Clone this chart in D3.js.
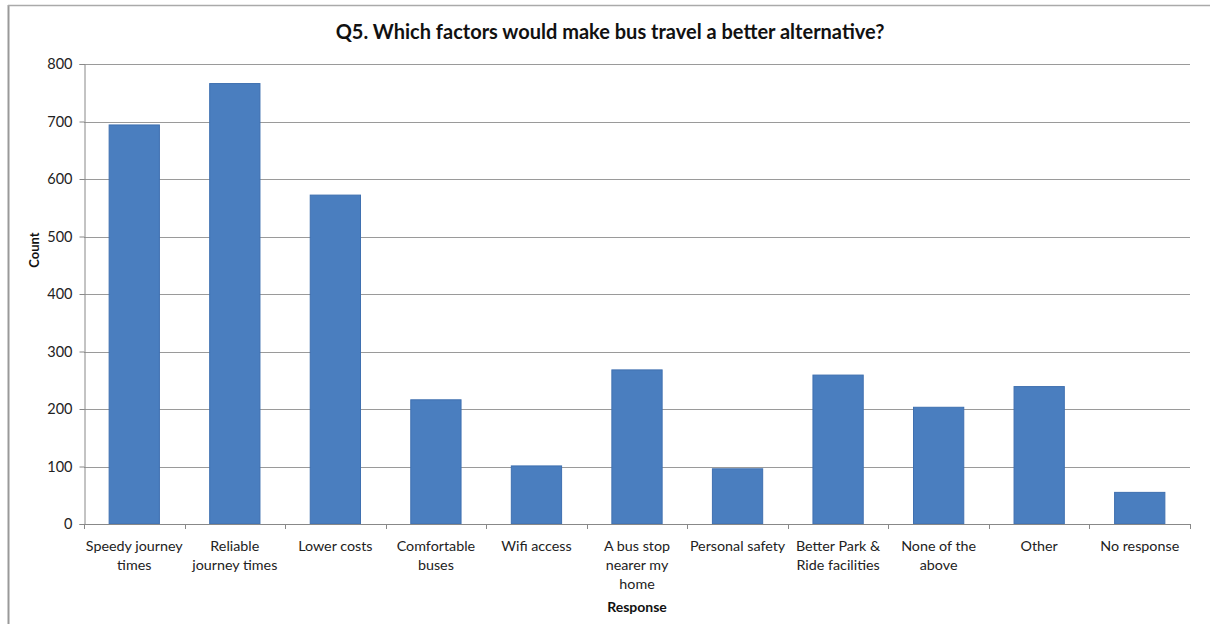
<!DOCTYPE html>
<html><head><meta charset="utf-8">
<script src="https://cdn.jsdelivr.net/npm/d3@7"></script>
<style>body{margin:0;background:#fff;} svg{display:block;font-family:Lato, "Open Sans", sans-serif;}</style>
</head><body>
<svg id="c" width="1210" height="624"></svg>
<script>
const categories = [
  ["Speedy journey", "times"],
  ["Reliable", "journey times"],
  ["Lower costs"],
  ["Comfortable", "buses"],
  ["Wifi access"],
  ["A bus stop", "nearer my", "home"],
  ["Personal safety"],
  ["Better Park &", "Ride facilities"],
  ["None of the", "above"],
  ["Other"],
  ["No response"]
];
const counts = [694, 766, 572, 216, 101, 268, 96, 259, 203, 239, 55];
const yTicks = [0, 100, 200, 300, 400, 500, 600, 700, 800];
const titleText = "Q5. Which factors would make bus travel a better alternative?";
const xTitle = "Response";
const yTitle = "Count";

const svg = d3.select("#c");
const m = {l: 84, r: 1190, t: 64, b: 524};
const keys = categories.map(d => d.join(" "));
const x = d3.scaleBand().domain(keys).range([m.l, m.r]).paddingInner(0.5).paddingOuter(0.25);
const y = d3.scaleLinear().domain([0, 800]).range([m.b, m.t]);

// frame
svg.append("line").attr("x1", 8.5).attr("x2", 8.5).attr("y1", 5).attr("y2", 624).attr("stroke", "#999").attr("stroke-width", 2);
svg.append("line").attr("x1", 8).attr("x2", 1210).attr("y1", 5.5).attr("y2", 5.5).attr("stroke", "#aaa").attr("stroke-width", 1.5);

// gridlines
svg.append("g").selectAll("line").data(yTicks.filter(d => d > 0)).join("line")
  .attr("x1", m.l).attr("x2", m.r)
  .attr("y1", d => Math.round(y(d)) + 0.5).attr("y2", d => Math.round(y(d)) + 0.5)
  .attr("stroke", "#9a9a9a").attr("stroke-width", 1);

// y axis
const ya = svg.append("g").attr("transform", `translate(${m.l + 0.5},0)`)
  .call(d3.axisLeft(y).tickValues(yTicks).tickSize(5).tickPadding(7));
ya.select(".domain").attr("stroke", "#888");
ya.selectAll(".tick line").attr("stroke", "#888");
ya.selectAll("text").attr("font-size", 14.5).attr("fill", "#222").attr("font-family", "Lato, sans-serif");

// bars
svg.append("g").selectAll("rect").data(counts).join("rect")
  .attr("x", (d, i) => x(keys[i]))
  .attr("width", x.bandwidth())
  .attr("y", d => y(d))
  .attr("height", d => y(0) - y(d))
  .attr("fill", "#4a7ebf")
  .attr("stroke", "#3f70b0").attr("stroke-width", 1);

// x axis
svg.append("line").attr("x1", m.l).attr("x2", m.r).attr("y1", m.b + 0.5).attr("y2", m.b + 0.5).attr("stroke", "#888");
const bounds = d3.range(keys.length + 1).map(i => m.l + i * (m.r - m.l) / keys.length);
svg.append("g").selectAll("line").data(bounds).join("line")
  .attr("x1", d => Math.round(d) + 0.5).attr("x2", d => Math.round(d) + 0.5)
  .attr("y1", m.b).attr("y2", m.b + 5).attr("stroke", "#888");

const lab = svg.append("g").selectAll("text").data(categories).join("text")
  .attr("x", (d, i) => x(keys[i]) + x.bandwidth() / 2)
  .attr("y", 551)
  .attr("text-anchor", "middle").attr("font-size", 14.3).attr("fill", "#222");
lab.selectAll("tspan").data(d => d).join("tspan")
  .attr("x", function() { return this.parentNode.getAttribute("x"); })
  .attr("dy", (d, i) => i === 0 ? 0 : 19)
  .text(d => d);

// titles
svg.append("text").attr("x", 610).attr("y", 39).attr("text-anchor", "middle")
  .attr("font-size", 20).attr("font-weight", "bold").attr("fill", "#111").text(titleText);
svg.append("text").attr("x", 637).attr("y", 612).attr("text-anchor", "middle")
  .attr("font-size", 14).attr("font-weight", "bold").attr("fill", "#111").text(xTitle);
svg.append("text").attr("transform", "translate(39,250) rotate(-90)").attr("text-anchor", "middle")
  .attr("font-size", 13).attr("font-weight", "bold").attr("fill", "#111").text(yTitle);
</script>
</body></html>
